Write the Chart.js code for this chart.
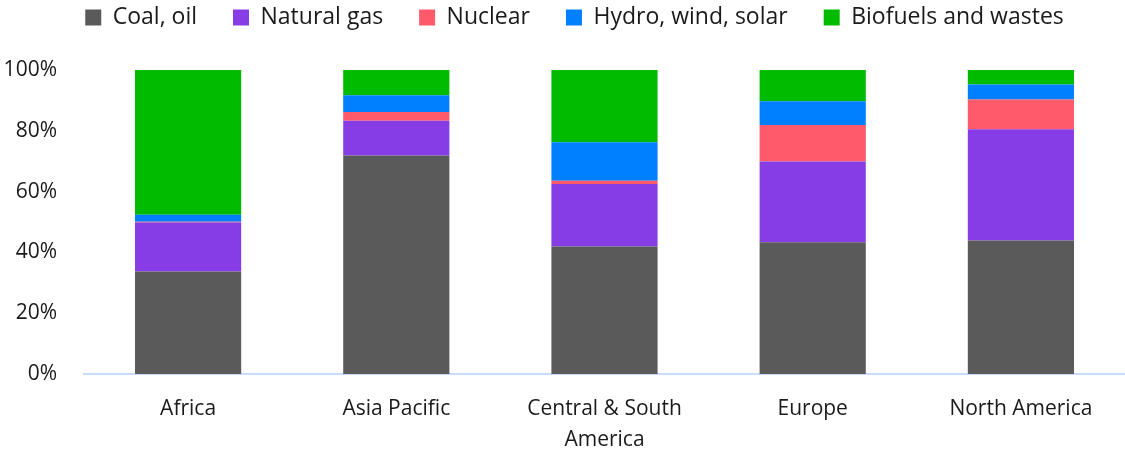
<!DOCTYPE html>
<html>
<head>
<meta charset="utf-8">
<script src="https://cdn.jsdelivr.net/npm/chart.js@4.4.0/dist/chart.umd.min.js"></script>
<style>
  html, body { margin: 0; padding: 0; background: #fff; }
  #wrap { width: 1125px; height: 450px; position: relative; }
</style>
</head>
<body>
<div id="wrap"><canvas id="mixChart"></canvas></div>
<script>
var regions = ['Africa', 'Asia Pacific', ['Central & South', 'America'], 'Europe', 'North America'];

// shares of each source, percent
var coalOil = [33.7, 71.9, 41.9, 43.3, 43.9];
var naturalGas = [16.1, 11.4, 20.6, 26.6, 36.6];
var nuclear = [0.3, 2.9, 1.1, 12.0, 9.8];
var renewables = [2.3, 5.5, 12.6, 7.8, 4.9];
var biofuels = [47.6, 8.3, 23.8, 10.3, 4.8];

var yTicks = [0, 20, 40, 60, 80, 100];

var fontFamily = '"Open Sans", sans-serif';

function makeSet(label, data, color) {
    return {
        label: label,
        data: data,
        backgroundColor: color,
        borderWidth: 0,
        barPercentage: 1,
        categoryPercentage: 0.51
    };
}

// legend spacing is wide, so fix its height by hand and nudge it right a bit
var legendFix = {
    id: 'legendFix',
    beforeInit: function (chart) {
        var fit = chart.legend.fit;
        chart.legend.fit = function () {
            fit.call(this);
            this.height = 100;
        };
    },
    afterLayout: function (chart) {
        chart.legend.left += 12;
        chart.legend.right += 12;
    }
};

var ctx = document.getElementById('mixChart');
var chart = new Chart(ctx, {
    type: 'bar',
    data: {
        labels: regions,
        datasets: [
            makeSet('Coal, oil', coalOil, '#5a5a5a'),
            makeSet('Natural gas', naturalGas, '#873de6'),
            makeSet('Nuclear', nuclear, '#ff5a6b'),
            makeSet('Hydro, wind, solar', renewables, '#0080ff'),
            makeSet('Biofuels and wastes', biofuels, '#00bb00')
        ]
    },
    plugins: [legendFix],
    options: {
        responsive: true,
        maintainAspectRatio: false,
        animation: false,
        layout: { padding: { left: 0, right: 0, top: -30, bottom: 0 } },
        scales: {
            x: {
                stacked: true,
                grid: { display: false, drawTicks: false },
                border: { display: true, color: '#c9dcfa', width: 2 },
                afterFit: function (scale) {
                    scale.height = 76;
                },
                ticks: {
                    color: '#1a1a1a',
                    font: { family: fontFamily, size: 21, lineHeight: 1.45 },
                    padding: 20,
                    maxRotation: 0,
                    autoSkip: false
                }
            },
            y: {
                stacked: true,
                min: 0,
                max: 100,
                afterBuildTicks: function (scale) {
                    scale.ticks = yTicks.map(v => ({ value: v }));
                },
                afterFit: function (scale) {
                    scale.width = 84;
                },
                grid: { display: false, drawTicks: false },
                border: { display: false },
                ticks: {
                    color: '#1a1a1a',
                    font: { family: fontFamily, size: 21 },
                    padding: 27,
                    callback: function (v) { return v + '%'; }
                }
            }
        },
        plugins: {
            legend: {
                display: true,
                position: 'top',
                labels: {
                    color: '#1a1a1a',
                    font: { family: fontFamily, size: 23 },
                    boxWidth: 16,
                    boxHeight: 16,
                    padding: 36
                }
            },
            tooltip: { enabled: false }
        }
    }
});
</script>
</body>
</html>
